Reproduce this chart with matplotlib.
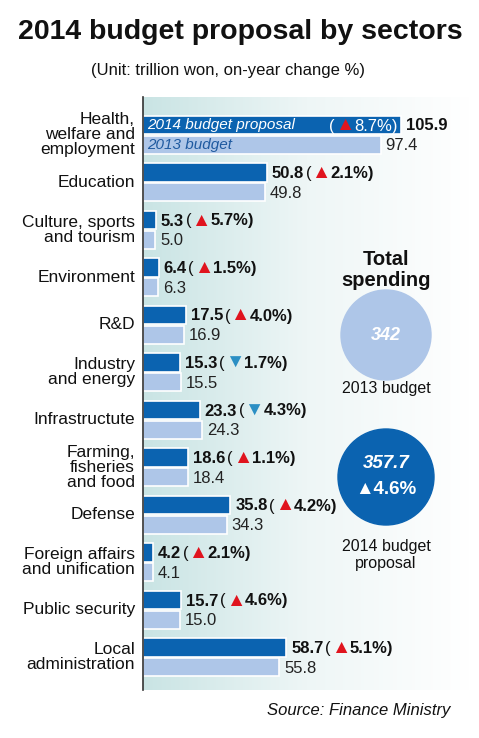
import numpy as np
import matplotlib.pyplot as plt
from matplotlib.patches import Circle

plt.rcParams['font.family'] = ['Liberation Sans', 'DejaVu Sans']

sectors = ["Health,\nwelfare and\nemployment", "Education", "Culture, sports\nand tourism",
           "Environment", "R&D", "Industry\nand energy", "Infrastructute",
           "Farming,\nfisheries\nand food", "Defense", "Foreign affairs\nand unification",
           "Public security", "Local\nadministration"]
budget_2014 = [105.9, 50.8, 5.3, 6.4, 17.5, 15.3, 23.3, 18.6, 35.8, 4.2, 15.7, 58.7]
budget_2013 = [97.4, 49.8, 5.0, 6.3, 16.9, 15.5, 24.3, 18.4, 34.3, 4.1, 15.0, 55.8]
change = [8.7, 2.1, 5.7, 1.5, 4.0, -1.7, -4.3, 1.1, 4.2, 2.1, 4.6, 5.1]
total_2013 = 342
total_2014 = 357.7
total_change = 4.6

DARK = '#0b63b0'
LIGHT = '#aec6e8'
RED = '#e0141e'
DOWN = '#2b8fc4'

W, H = 479, 738
fig = plt.figure(figsize=(W / 100, H / 100), dpi=100, facecolor='white')

# main bar axes in pixel frame: x 143..470, y 97..690
px_per_unit = 2.44
x0, x1, y0, y1 = 143, 470, 97, 690
ax = fig.add_axes([x0 / W, 1 - y1 / H, (x1 - x0) / W, (y1 - y0) / H])
step = 47.5
ax.set_xlim(0, (x1 - x0) / px_per_unit)
ax.set_ylim((y1 - 125) / step, (y0 - 125) / step)

grad = np.linspace(0, 1, 256).reshape(1, -1)
ax.imshow(grad, cmap=plt.matplotlib.colors.LinearSegmentedColormap.from_list(
    'bg', ['#c9e4e4', '#eef6f6', '#ffffff']), extent=[*ax.get_xlim(), *ax.get_ylim()],
    aspect='auto', zorder=0)

pos = np.arange(len(sectors))
bh = 0.38
ax.barh(pos, budget_2014, height=bh, color=DARK, edgecolor='white', linewidth=1.2, zorder=2)
ax.barh(pos + 0.42, budget_2013, height=bh, color=LIGHT, edgecolor='white', linewidth=1.2, zorder=2)
for s in ['top', 'right', 'bottom']:
    ax.spines[s].set_visible(False)
ax.spines['left'].set_color('#333333')
ax.spines['left'].set_linewidth(1.2)
ax.set_xticks([])
ax.set_yticks([])

for i, name in enumerate(sectors):
    ax.text(-3.3, i + 0.21, name, ha='right', va='center', fontsize=12.5,
            linespacing=1.0, color='#111111')

fig.canvas.draw()
renderer = fig.canvas.get_renderer()
FS = 12


def chain(x, y, pieces, ha_right=False):
    # pieces: list of (text, color, weight, size, extra gap after)
    widths = []
    for t, c, w, fs, gap in pieces:
        tt = fig.text(0, 0, t, fontsize=fs, fontweight=w)
        widths.append(tt.get_window_extent(renderer).width + gap)
        tt.remove()
    if ha_right:
        x = x - sum(widths)
    for (t, c, w, fs, gap), wd in zip(pieces, widths):
        fig.text(x / W, 1 - y / H, t, fontsize=fs, fontweight=w, color=c, va='center')
        x += wd


def to_px(xd, yd):
    dx, dy = ax.transData.transform((xd, yd))
    return dx, H - dy


for i in range(len(sectors)):
    arrow = '▲' if change[i] >= 0 else '▼'
    acol = RED if change[i] >= 0 else DOWN
    px, py = to_px(budget_2014[i], i)
    if i == 0:
        chain(px + 5, py + 1, [(f"{budget_2014[i]}", '#111111', 'bold', FS, 0)])
        chain(px - 4, py + 1, [("(", 'white', 'normal', FS, 0), (arrow, RED, 'normal', 14, 0),
                               (f"{abs(change[i])}%)", 'white', 'normal', FS, 0)], ha_right=True)
    else:
        chain(px + 5, py + 1, [(f"{budget_2014[i]}", '#111111', 'bold', FS, 1.5),
                               ("(", '#111111', 'normal', FS, 0),
                               (arrow, acol, 'normal', 14, 0),
                               (f"{abs(change[i])}%)", '#111111', 'bold', FS, 0)])
    px, py = to_px(budget_2013[i], i + 0.42)
    chain(px + 5, py + 1, [(f"{budget_2013[i]}", '#222222', 'normal', FS, 0)])

ax.text(1.5, 0, "2014 budget proposal", color='white', style='italic', fontsize=11,
        va='center', zorder=3)
ax.text(1.5, 0.42, "2013 budget", color='#1f5aa0', style='italic', fontsize=11,
        va='center', zorder=3)

# overlay in pixel coordinates for circles and headings
ov = fig.add_axes([0, 0, 1, 1], facecolor='none')
ov.set_xlim(0, W)
ov.set_ylim(H, 0)
ov.axis('off')
ov.add_patch(Circle((386, 335), 45, color=LIGHT))
ov.add_patch(Circle((386, 477), 48, color=DARK))
ov.text(386, 270, "Total\nspending", ha='center', va='center', fontsize=14.5,
        fontweight='bold', linespacing=1.1, color='#111111')
ov.text(386, 335, f"{total_2013}", ha='center', va='center', fontsize=13,
        fontweight='bold', style='italic', color='white')
ov.text(386, 388, "2013 budget", ha='center', va='center', fontsize=11.5, color='#111111')
ov.text(386, 463, f"{total_2014}", ha='center', va='center', fontsize=13.5,
        fontweight='bold', style='italic', color='white')
ov.text(386, 490, f"▲{total_change}%", ha='center', va='center', fontsize=13.5,
        fontweight='bold', color='white')
ov.text(386, 555, "2014 budget\nproposal", ha='center', va='center', fontsize=11.5,
        linespacing=1.15, color='#111111')

ov.text(18, 32, "2014 budget proposal by sectors", ha='left', va='center',
        fontsize=20.5, fontweight='bold', color='#111111')
ov.text(228, 70, "(Unit: trillion won, on-year change %)", ha='center', va='center',
        fontsize=12, color='#111111')
ov.text(450, 711, "Source: Finance Ministry", ha='right', va='center',
        fontsize=12, style='italic', color='#111111')

fig.savefig('out.png', dpi=100, facecolor='white')
